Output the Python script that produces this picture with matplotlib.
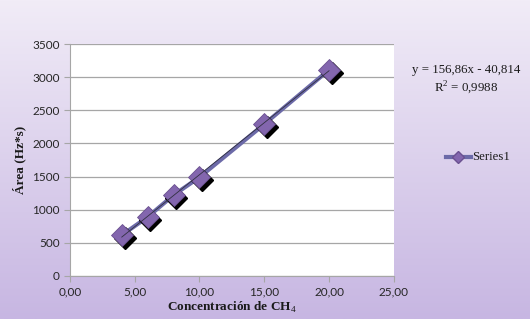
import numpy as np
import matplotlib
matplotlib.use("Agg")
import matplotlib.pyplot as plt
import matplotlib.transforms as mtransforms
from matplotlib.colors import LinearSegmentedColormap

# data
conc = [4.0, 6.0, 8.0, 10.0, 15.0, 20.0]
area = [615, 890, 1220, 1490, 2290, 3110]
slope = 156.86
intercept = -40.814
r2_text = "R$^2$ = 0,9988"
eq_text = "y = 156,86x - 40,814"
x_ticks = [0, 5, 10, 15, 20, 25]
x_labels = ["0,00", "5,00", "10,00", "15,00", "20,00", "25,00"]
y_ticks = [0, 500, 1000, 1500, 2000, 2500, 3000, 3500]

serif = ["Liberation Serif", "DejaVu Serif"]
sans = ["Lato", "DejaVu Sans"]
plt.rcParams["mathtext.fontset"] = "custom"
plt.rcParams["mathtext.rm"] = "Liberation Serif"

fig = plt.figure(figsize=(5.3, 3.19), dpi=100)

# gradient background
bg = fig.add_axes([0, 0, 1, 1], zorder=-10)
cmap = LinearSegmentedColormap.from_list("bg", ["#f1ecf7", "#c7b6e2"])
bg.imshow(np.linspace(0, 1, 256).reshape(-1, 1), aspect="auto", cmap=cmap,
          extent=[0, 1, 0, 1], origin="upper")
bg.set_axis_off()

ax = fig.add_axes([0.132, 0.135, 0.611, 0.727])
ax.set_facecolor("white")
ax.set_xlim(0, 25)
ax.set_ylim(0, 3500)
ax.set_xticks(x_ticks)
ax.set_xticklabels(x_labels)
ax.set_yticks(y_ticks)
ax.grid(axis="y", color="#a6a6a6", linewidth=0.9)
ax.set_axisbelow(True)
for side in ["top", "right"]:
    ax.spines[side].set_visible(False)
for side in ["left", "bottom"]:
    ax.spines[side].set_color("#a6a6a6")
ax.tick_params(colors="#a6a6a6", labelcolor="#262626", length=4,
               direction="out", labelsize=8.5)
for lab in ax.get_xticklabels() + ax.get_yticklabels():
    lab.set_family(sans)

# series line
ax.plot(conc, area, color="#6c6aa8", linewidth=3, zorder=2, solid_capstyle="round")

# marker shadows
shadow = mtransforms.offset_copy(ax.transData, fig=fig, x=2.0, y=-2.0, units="points")
ax.plot(conc, area, linestyle="none", marker="D", markersize=11,
        color="black", transform=shadow, zorder=3)
ax.plot(conc, area, linestyle="none", marker="D", markersize=11,
        markerfacecolor="#8366ae", markeredgecolor="#6a5090",
        markeredgewidth=0.6, zorder=4)

# trendline
tx = np.array([conc[0], conc[-1]])
ax.plot(tx, slope * tx + intercept, color="#303040", linewidth=0.6, zorder=5)

ax.set_xlabel("Concentración de CH$_4$", family=serif, fontweight="bold",
              fontsize=9.5, color="#1a1a1a", labelpad=2)
ax.set_ylabel("Área (Hz*s)", family=serif, fontweight="bold",
              fontsize=9.5, color="#1a1a1a", labelpad=4)

fig.text(0.88, 0.78, eq_text, family=serif, fontsize=9.3, ha="center",
         va="center", color="#1a1a1a")
fig.text(0.88, 0.727, r2_text, family=serif, fontsize=9.3, ha="center",
         va="center", color="#1a1a1a")

# legend
lx = [0.842, 0.888]
fig.add_artist(plt.Line2D(lx, [0.508, 0.508], color="#6c6aa8", linewidth=3))
fig.add_artist(plt.Line2D([sum(lx) / 2], [0.508], marker="D", markersize=6,
                          markerfacecolor="#8366ae", markeredgecolor="#6a5090"))
fig.text(0.89, 0.508, "Series1", family=serif, fontsize=9.3, va="center",
         color="#1a1a1a")

fig.savefig("out.png", dpi=100)
